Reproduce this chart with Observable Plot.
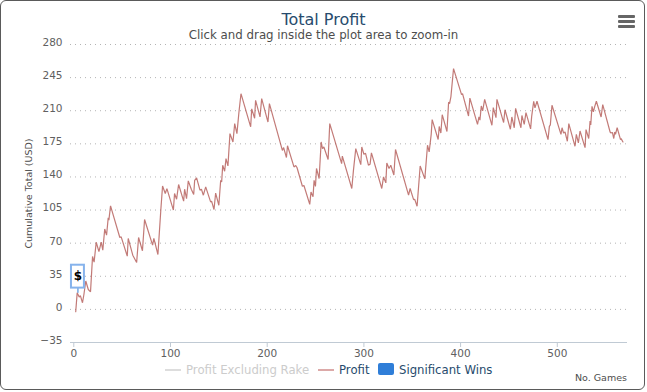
<!DOCTYPE html>
<html>
<head>
<meta charset="utf-8">
<script src="https://cdn.jsdelivr.net/npm/d3@7"></script>
<script src="https://cdn.jsdelivr.net/npm/@observablehq/plot@0.6"></script>
<style>
html,body{margin:0;padding:0;background:#fff;}
#wrap{position:relative;width:647px;height:392px;overflow:hidden;font-family:"DejaVu Sans",sans-serif;}
#frame{position:absolute;left:0;top:0;width:643px;height:388px;border:1.5px solid #5a5a5a;border-radius:6px;pointer-events:none;}
#wrap svg{position:absolute;left:0;top:0;}
.t{position:absolute;white-space:nowrap;}
#title{left:0;width:647px;top:10px;text-align:center;font-size:16px;color:#274b6d;line-height:20px;}
#subtitle{left:0;width:647px;top:28px;text-align:center;font-size:11.8px;color:#4d4d4d;line-height:15px;}
#xname{right:20px;top:372px;font-size:9.5px;line-height:12px;color:#4d4d4d;}
.bar{position:absolute;left:618px;width:17px;height:3px;background:#666;border-radius:1px;}
.sw{position:absolute;}
.lg{position:absolute;top:363px;font-size:11.7px;line-height:15px;white-space:nowrap;color:#274b6d;}
</style>
</head>
<body>
<div id="wrap">
  <div id="chart"></div>
  <div id="title" class="t"></div>
  <div id="subtitle" class="t"></div>
  <div id="xname" class="t"></div>
  <div class="bar" style="top:15px"></div>
  <div class="bar" style="top:20px"></div>
  <div class="bar" style="top:25px"></div>
  <div class="sw" style="left:165px;top:369px;width:16px;height:2px;background:#ddd"></div>
  <div class="lg" id="lg1" style="left:186px;color:#ccc"></div>
  <div class="sw" style="left:318px;top:369px;width:16px;height:2px;background:#dca9a8"></div>
  <div class="lg" id="lg2" style="left:339px"></div>
  <div class="sw" style="left:378px;top:363px;width:16px;height:12px;background:#2f7ed8;border-radius:2px"></div>
  <div class="lg" id="lg3" style="left:399px"></div>
  <div id="frame"></div>
</div>
<script>
const titleText = "Total Profit";
const subtitleText = "Click and drag inside the plot area to zoom-in";
const xTitle = "No. Games";
const yTitle = "Cumulative Total (USD)";
const legendNames = ["Profit Excluding Rake", "Profit", "Significant Wins"];
const xTicks = [0, 100, 200, 300, 400, 500];
const yTicks = [-35, 0, 35, 70, 105, 140, 175, 210, 245, 280];
const games = [2,3.5,5.6,6.8,9,10.5,12.4,15,16,17.3,19.4,21,23.2,26,28.4,30,32,33.9,35.6,36.3,38,47.6,49,55.3,56.3,61,65,67,71,73.2,81.5,82.8,87,90,91.8,94.6,96.3,103,104.2,106.3,108.4,113.6,114.6,116.6,118.4,121.5,124,125,127,130.5,132,134,136.4,141.5,142.5,145,146.7,150,151.9,152.9,154,156,157.4,159.4,161.5,164.6,166.4,168.7,170.8,172.9,182.9,184,187,188,192.6,194.3,200.8,202.3,215.7,217,219.9,221,227.7,229.5,230.8,236.4,238,244,245.3,247.4,248.5,249.9,251,253.7,255.8,257.2,258.6,263,264.7,277,277.7,287.5,289.2,291.6,296.8,297.8,300,301.7,304.7,306.4,307.8,318.5,320.3,322.7,323.7,326,327.8,331,332.7,346.2,347.8,351.4,352.5,355,358.2,363,365.8,367.5,369.6,370.6,376.8,377.9,379.6,381,385.9,387.6,388.6,390,392.7,401,402,408.2,409.6,417.5,419,420,421.4,422.8,424.9,432.4,433.8,436.6,437.6,444.5,445.9,451.5,453,455.5,456.9,462.4,463.4,465.8,467.6,472.4,473.5,475.6,476.9,479,490.4,491.8,492.8,494.5,503.8,504.9,506.5,508,510.4,511.9,518.3,519.7,521.8,523.5,528.7,529.7,532.5,533.9,534.6,535.9,537.3,538.6,540.4,545.3,547,554.6,555.6,557,558.4,559.4,560.2,561.9,565.4,566,567.9];
const profit = [-2.5,17.5,13,14.5,7,16,30,21,20,18.6,56,50,71,61,71,62.6,85,78.5,96.7,94.3,109.4,76,76.7,56.3,75,57.3,49.6,76,62,95,68,75,58,105,130.5,122.5,127.7,105,122.5,116.5,132,114.4,127,117,135.8,127,121.4,136.5,139,126,127,120.7,129.5,113.6,114.4,105.6,123,110,136.5,134.7,152.4,146,159.4,151.6,185.8,177,196.4,185.8,208.7,228,193,212,202,221,203.4,222.8,198,217.5,168,171,160.5,173,150.6,152,150,130.2,131,111,124,119,136.5,130,149,138.3,177,170,171.7,158.4,196.4,154,162,127.8,147,170,153,171.7,164,165,152.4,153.5,165.4,127.8,140,133.7,154.8,149,152.4,142,169,120.7,127.8,116,116.5,109,151.6,138,173.5,166.4,185,200.6,179.6,193.4,186.4,205.8,188,219,217.5,225,254.5,227,228,204.4,223.4,195.6,203.4,200,215,209.8,222,194.6,213.3,202.7,222,197.5,211,190.4,203.4,192,212.5,192,205,195.6,208,190.8,204,220,213,220,179.5,193.4,195,215.8,185,192,186.5,187.5,177.7,196.4,172.4,185,176,188.6,171,190,180.6,199,195,214.7,208.7,214,220,203.4,216.5,187.5,186.5,187,180.6,187.5,185,192,179.5,180.5,177];
const flagGame = [4.3];
const flagValue = [17];
const flagLabel = ["$"];
const flagLeft = [-2.4], flagRight = [11], flagLow = [22.5], flagHigh = [46.7];
const series = games.map((g, i) => ({game: g, profit: profit[i]}));

document.getElementById("title").textContent = titleText;
document.getElementById("subtitle").textContent = subtitleText;
document.getElementById("xname").textContent = xTitle;
["lg1","lg2","lg3"].forEach((id, i) => document.getElementById(id).textContent = legendNames[i]);

const plot = Plot.plot({
  width: 647, height: 392,
  marginLeft: 70, marginRight: 20, marginTop: 44, marginBottom: 50,
  style: {fontFamily: '"DejaVu Sans", sans-serif', background: "transparent", overflow: "visible"},
  x: {domain: [-3.4, 572.6]},
  y: {domain: [-35, 280]},
  marks: [
    Plot.ruleY(yTicks.filter(d => d > -35), {stroke: "#b4b4b4", strokeDasharray: "1,4", strokeWidth: 1, strokeOpacity: 1}),
    Plot.ruleY([-35], {stroke: "#c0cad4", strokeWidth: 1}),
    Plot.axisY({ticks: yTicks, tickSize: 0, tickPadding: 8, dy: -2, fontSize: 10.5, color: "#606060", label: null, tickFormat: d => d < 0 ? "\u2212" + (-d) : String(d)}),
    Plot.text([yTitle], {frameAnchor: "left", dx: -42, rotate: -90, textAnchor: "middle", fontSize: 9.5, fill: "#4d4d4d", text: d => d}),
    Plot.axisX({ticks: xTicks, tickSize: 5, stroke: "#c0cad4", tickPadding: 2, fontSize: 10.5, color: "#606060", label: null, tickFormat: String}),
    Plot.line(series, {x: "game", y: "profit", stroke: "#aa4643", strokeWidth: 1.2, strokeOpacity: 0.72, strokeLinejoin: "miter"}),
    Plot.ruleX(flagGame, {y1: flagValue, y2: flagLow, stroke: "#2f7ed8", strokeWidth: 1}),
    Plot.rect(flagGame, {x1: flagLeft, x2: flagRight, y1: flagLow, y2: flagHigh, fill: "#fff", stroke: "#86b3ec", strokeWidth: 2}),
    Plot.text(flagLabel, {x: flagGame, y: [34.6], text: d => d, fill: "#000", fontWeight: "bold", fontSize: 12})
  ]
});
document.getElementById("chart").appendChild(plot);
</script>
</body>
</html>
